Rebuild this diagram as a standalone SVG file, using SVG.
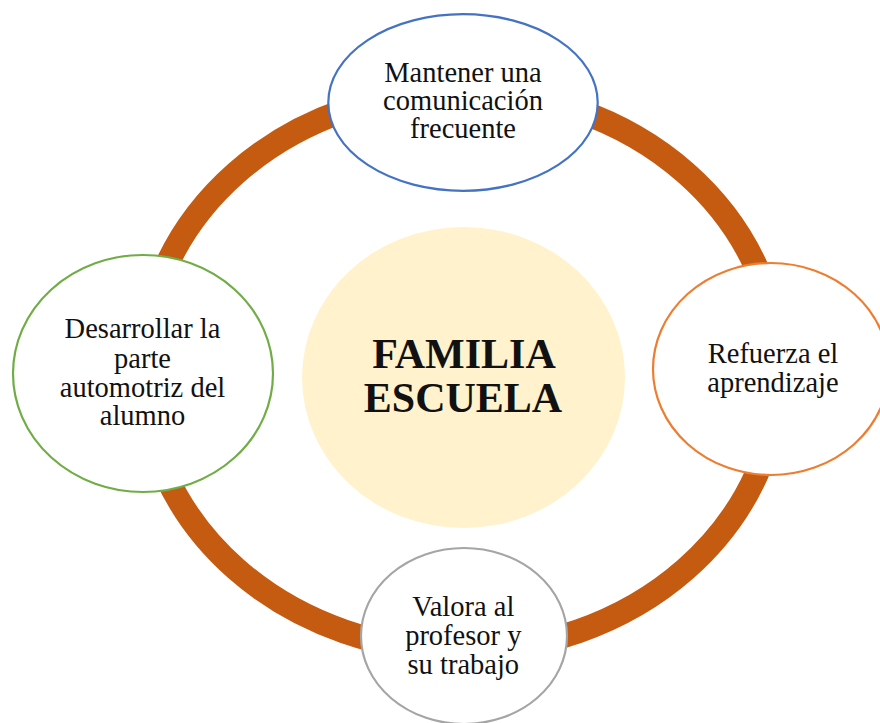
<svg xmlns="http://www.w3.org/2000/svg" width="880" height="723" viewBox="0 0 880 723">
<style>
.node{fill:#ffffff;stroke-width:2.2}
.t{font-family:"Liberation Serif","Times New Roman",serif;font-size:28.5px;fill:#111111;text-anchor:middle}
.c{font-family:"Liberation Serif","Times New Roman",serif;font-size:42px;font-weight:bold;fill:#111111;text-anchor:middle}
</style>
<rect width="880" height="723" fill="#ffffff"/>
<g id="connectors">
<ellipse cx="461" cy="371" rx="318" ry="280" fill="none" stroke="#C55A11" stroke-width="24"/>
</g>
<g id="center">
<ellipse cx="463.5" cy="377.5" rx="161.5" ry="150.5" fill="#FFF2CC"/>
<text class="c" x="464" y="368">FAMILIA</text>
<text class="c" x="463" y="412">ESCUELA</text>
</g>
<g id="node-top">
<ellipse class="node" cx="463" cy="102.5" rx="134.7" ry="88.3" stroke="#4472C4"/>
<text class="t" x="463" y="81.7">Mantener una</text>
<text class="t" x="463" y="110">comunicación</text>
<text class="t" x="463" y="138.3">frecuente</text>
</g>
<g id="node-right">
<ellipse class="node" cx="771" cy="369" rx="118" ry="106" stroke="#ED7D31"/>
<text class="t" x="773" y="363.3">Refuerza el</text>
<text class="t" x="773" y="391.7">aprendizaje</text>
</g>
<g id="node-bottom">
<ellipse class="node" cx="464" cy="636" rx="103" ry="88" stroke="#A5A5A5"/>
<text class="t" x="463.3" y="616">Valora al</text>
<text class="t" x="463.3" y="645">profesor y</text>
<text class="t" x="463.3" y="674">su trabajo</text>
</g>
<g id="node-left">
<ellipse class="node" cx="143" cy="373.5" rx="130" ry="118.5" stroke="#70AD47"/>
<text class="t" x="142.5" y="338.3">Desarrollar la</text>
<text class="t" x="142.5" y="367.7">parte</text>
<text class="t" x="142.5" y="396.7">automotriz del</text>
<text class="t" x="142.5" y="425">alumno</text>
</g>
</svg>
